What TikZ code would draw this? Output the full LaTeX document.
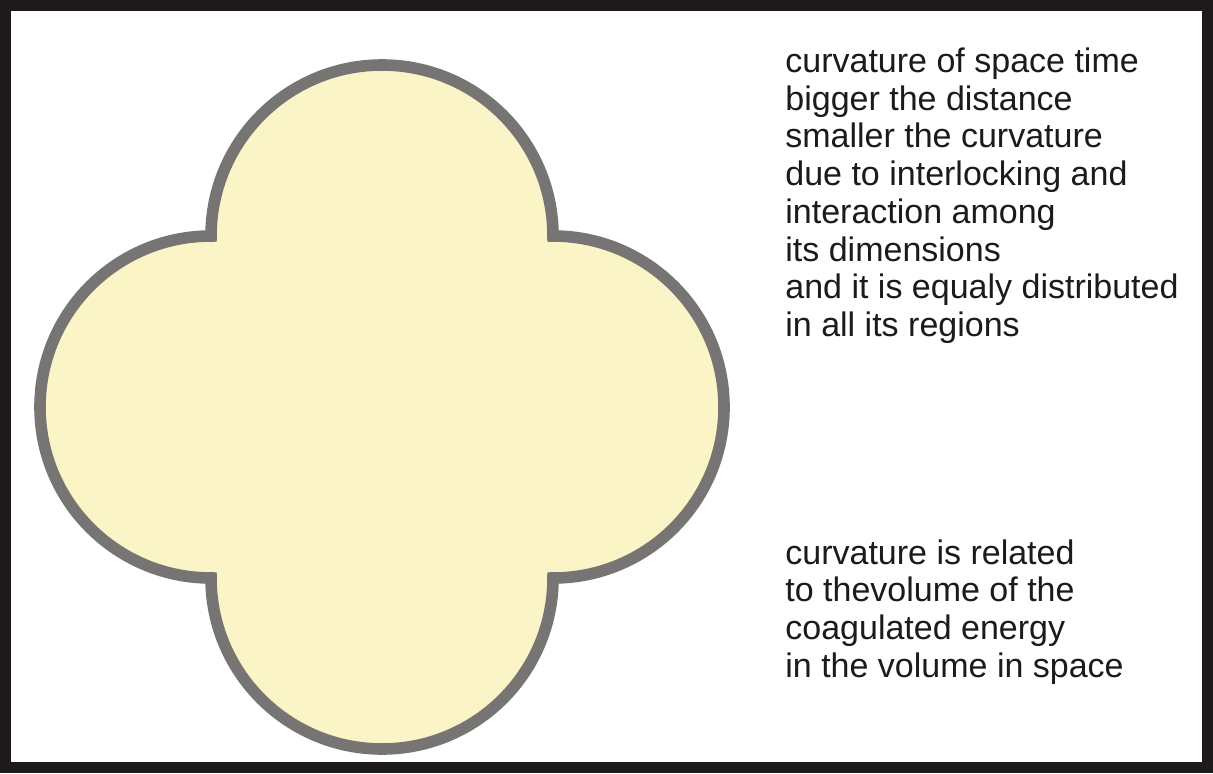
\documentclass[tikz,border=0pt]{standalone}
\usepackage{fontspec}
\setmainfont{Liberation Sans}
\usepackage{xcolor}
\definecolor{framedark}{RGB}{30,26,26}
\definecolor{lobegray}{RGB}{119,116,116}
\definecolor{lobefill}{RGB}{251,244,198}
\definecolor{inkdark}{RGB}{28,26,26}
\tikzset{
  outerframe/.style = {draw=framedark, line width=5.5pt},
  lobe/.style = {
    draw=lobegray, fill=lobefill, line width=5.8pt, line join=miter
  },
  notetext/.style = {
    anchor=north west, align=left, inner sep=0pt, text=inkdark,
    font=\fontsize{17pt}{18.85pt}\selectfont
  }
}

\begin{document}
\begin{tikzpicture}[x=0.5pt, y=0.5pt]

%% Page and frame
\useasboundingbox (0,0) rectangle (1213,773);
\fill[white] (0,0) rectangle (1213,773);
\draw[outerframe] (5.5,5.5) rectangle (1207.5,767.5);

%% Four-lobed shape (top, right, bottom, left)
\draw[lobe] (211,537)
  arc[start angle=180, end angle=0,    radius=171]
  arc[start angle=90,  end angle=-90,  radius=171]
  arc[start angle=0,   end angle=-180, radius=171]
  arc[start angle=270, end angle=90,   radius=171] -- cycle;

%% Notes
\node[notetext] (upper) at (785,725.5) {curvature of space time\\
  bigger the distance\\
  smaller the curvature\\
  due to interlocking and\\
  interaction among\\
  its dimensions\\
  and it is equaly distributed\\
  in all its regions};

\node[notetext] (lower) at (785,234) {curvature is related\\
  to thevolume of the\\
  coagulated energy\\
  in the volume in space};

\end{tikzpicture}
\end{document}
